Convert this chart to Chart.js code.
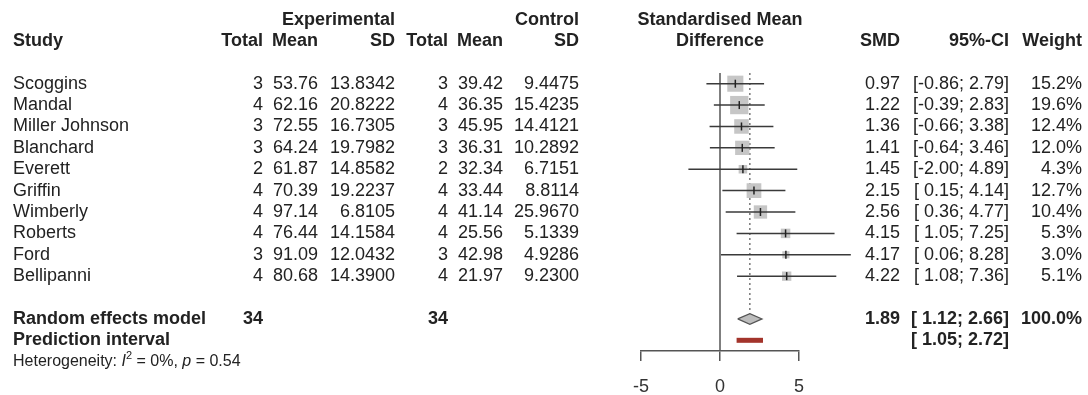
<!DOCTYPE html>
<html>
<head>
<meta charset="utf-8">
<script src="https://cdn.jsdelivr.net/npm/chart.js@4/dist/chart.umd.min.js"></script>
<style>
  body { margin: 0; background: #fff; }
  canvas { display: block; }
</style>
</head>
<body>
<canvas id="forest" width="1088" height="395"></canvas>
<script>
// study data
const studies = ['Scoggins', 'Mandal', 'Miller Johnson', 'Blanchard', 'Everett', 'Griffin', 'Wimberly', 'Roberts', 'Ford', 'Bellipanni'];
const expTotal = [3, 4, 3, 3, 2, 4, 4, 4, 3, 4];
const expMean = [53.76, 62.16, 72.55, 64.24, 61.87, 70.39, 97.14, 76.44, 91.09, 80.68];
const expSD = [13.8342, 20.8222, 16.7305, 19.7982, 14.8582, 19.2237, 6.8105, 14.1584, 12.0432, 14.3900];
const ctlTotal = [3, 4, 3, 3, 2, 4, 4, 4, 3, 4];
const ctlMean = [39.42, 36.35, 45.95, 36.31, 32.34, 33.44, 41.14, 25.56, 42.98, 21.97];
const ctlSD = [9.4475, 15.4235, 14.4121, 10.2892, 6.7151, 8.8114, 25.9670, 5.1339, 4.9286, 9.2300];
const smd = [0.97, 1.22, 1.36, 1.41, 1.45, 2.15, 2.56, 4.15, 4.17, 4.22];
const ciLow = [-0.86, -0.39, -0.66, -0.64, -2.00, 0.15, 0.36, 1.05, 0.06, 1.08];
const ciHigh = [2.79, 2.83, 3.38, 3.46, 4.89, 4.14, 4.77, 7.25, 8.28, 7.36];
const weight = [15.2, 19.6, 12.4, 12.0, 4.3, 12.7, 10.4, 5.3, 3.0, 5.1];

const pooledTotals = [34, 34];
const pooled = [1.89, 1.12, 2.66];      // SMD, lower, upper
const pooledWeight = 100.0;
const predInterval = [1.05, 2.72];
const heterogeneity = { i2: '0%', p: '0.54' };
const tickValues = [-5, 0, 5];

// row numbers on the y scale
const rowPooled = 11, rowPred = 12, rowHet = 13;

const FONT = '"Liberation Sans", Arial, Helvetica, sans-serif';
const TEXT = '#222';

function fmtCI(lo, hi) {
    const l = lo < 0 ? lo.toFixed(2) : ' ' + lo.toFixed(2);
    return '[' + l + '; ' + hi.toFixed(2) + ']';
}

const datasets = [];

// vertical line of no effect
datasets.push({
    type: 'line', order: 6, data: [{ x: 0, y: -0.5 }, { x: 0, y: 12.5 }],
    borderColor: '#555', borderWidth: 1.5, pointRadius: 0
});
// dotted line at pooled estimate
datasets.push({
    type: 'line', order: 5, data: [{ x: pooled[0], y: -0.5 }, { x: pooled[0], y: rowPooled - 0.25 }],
    borderColor: '#555', borderWidth: 1.2, borderDash: [2, 3], pointRadius: 0
});
// squares, area by weight
datasets.push({
    type: 'scatter', order: 4,
    data: smd.map((v, i) => ({ x: v, y: i })),
    pointStyle: 'rect',
    pointRadius: weight.map(w => 2.92 * Math.sqrt(w)),
    backgroundColor: '#c6c6c6', borderWidth: 0
});
// confidence intervals
smd.forEach((v, i) => {
    datasets.push({
        type: 'line', order: 3, data: [{ x: ciLow[i], y: i }, { x: ciHigh[i], y: i }],
        borderColor: '#3a3a3a', borderWidth: 1.5, pointRadius: 0
    });
});
// point estimate marks
datasets.push({
    type: 'scatter', order: 0,
    data: smd.map((v, i) => ({ x: v, y: i })),
    pointStyle: 'line', rotation: 90, pointRadius: 4,
    borderColor: '#222', pointBorderColor: '#222', borderWidth: 1.5
});
// pooled diamond
datasets.push({
    type: 'line', order: 1,
    data: [
        { x: pooled[1], y: rowPooled },
        { x: pooled[0], y: rowPooled - 0.25 },
        { x: pooled[2], y: rowPooled },
        { x: pooled[0], y: rowPooled + 0.25 },
        { x: pooled[1], y: rowPooled }
    ],
    borderColor: '#555', borderWidth: 1.2, backgroundColor: '#bdbdbd',
    fill: 'shape', pointRadius: 0, tension: 0
});
// prediction interval
datasets.push({
    type: 'line', order: 1, data: [{ x: predInterval[0], y: rowPred }, { x: predInterval[1], y: rowPred }],
    borderColor: '#a3342b', borderWidth: 5, borderCapStyle: 'butt', pointRadius: 0
});
datasets.forEach(d => { d.clip = false; });

const tablePlugin = {
    id: 'tablePlugin',
    afterDraw(chart) {
        const ctx = chart.ctx;
        const ys = chart.scales.y;
        const xs = chart.scales.x;
        const rowY = r => ys.getPixelForValue(r);
        ctx.save();
        ctx.fillStyle = TEXT;
        ctx.textBaseline = 'middle';

        function txt(s, x, r, align, bold, size) {
            ctx.font = (bold ? 'bold ' : '') + (size || 18) + 'px ' + FONT;
            ctx.textAlign = align;
            ctx.fillText(s, x, rowY(r));
        }

        // header
        txt('Experimental', 395, -3, 'right', true);
        txt('Control', 579, -3, 'right', true);
        txt('Standardised Mean', xs.getPixelForValue(0), -3, 'center', true);
        txt('Study', 13, -2, 'left', true);
        txt('Total', 263, -2, 'right', true);
        txt('Mean', 318, -2, 'right', true);
        txt('SD', 395, -2, 'right', true);
        txt('Total', 448, -2, 'right', true);
        txt('Mean', 503, -2, 'right', true);
        txt('SD', 579, -2, 'right', true);
        txt('Difference', xs.getPixelForValue(0), -2, 'center', true);
        txt('SMD', 900, -2, 'right', true);
        txt('95%-CI', 1009, -2, 'right', true);
        txt('Weight', 1082, -2, 'right', true);

        // study rows
        studies.forEach((s, i) => {
            txt(s, 13, i, 'left');
            txt(String(expTotal[i]), 263, i, 'right');
            txt(expMean[i].toFixed(2), 318, i, 'right');
            txt(expSD[i].toFixed(4), 395, i, 'right');
            txt(String(ctlTotal[i]), 448, i, 'right');
            txt(ctlMean[i].toFixed(2), 503, i, 'right');
            txt(ctlSD[i].toFixed(4), 579, i, 'right');
            txt(smd[i].toFixed(2), 900, i, 'right');
            txt(fmtCI(ciLow[i], ciHigh[i]), 1009, i, 'right');
            txt(weight[i].toFixed(1) + '%', 1082, i, 'right');
        });

        // pooled rows
        txt('Random effects model', 13, rowPooled, 'left', true);
        txt(String(pooledTotals[0]), 263, rowPooled, 'right', true);
        txt(String(pooledTotals[1]), 448, rowPooled, 'right', true);
        txt(pooled[0].toFixed(2), 900, rowPooled, 'right', true);
        txt(fmtCI(pooled[1], pooled[2]), 1009, rowPooled, 'right', true);
        txt(pooledWeight.toFixed(1) + '%', 1082, rowPooled, 'right', true);
        txt('Prediction interval', 13, rowPred, 'left', true);
        txt(fmtCI(predInterval[0], predInterval[1]), 1009, rowPred, 'right', true);

        // heterogeneity line with italic I and p
        const y = rowY(rowHet);
        let x = 13;
        ctx.textAlign = 'left';
        const part = (s, style, size, dy) => {
            ctx.font = style + (size || 16) + 'px ' + FONT;
            ctx.fillText(s, x, y + (dy || 0));
            x += ctx.measureText(s).width;
        };
        part('Heterogeneity: ', '');
        part('I', 'italic ');
        part('2', '', 11, -6);
        part(' = ' + heterogeneity.i2 + ', ', '');
        part('p', 'italic ');
        part(' = ' + heterogeneity.p, '');
        ctx.restore();
    }
};

const chart = new Chart(document.getElementById('forest'), {
    type: 'scatter',
    data: { datasets: datasets },
    options: {
        responsive: false,
        animation: false,
        devicePixelRatio: 1,
        layout: { padding: { left: 641, right: 289, top: 73, bottom: 0 } },
        plugins: { legend: { display: false }, tooltip: { enabled: false } },
        scales: {
            x: {
                type: 'linear', min: -5, max: 5, position: 'bottom',
                afterBuildTicks: scale => { scale.ticks = tickValues.map(v => ({ value: v })); },
                afterFit: scale => { scale.height = 44; },
                grid: { drawOnChartArea: false, drawTicks: true, tickLength: 10, color: '#555', lineWidth: 1.5 },
                border: { display: true, color: '#555', width: 1.5 },
                ticks: { color: '#333', padding: 15, font: { size: 18, family: FONT }, maxRotation: 0 }
            },
            y: { type: 'linear', reverse: true, min: -0.5, max: 12.5, display: false }
        }
    },
    plugins: [tablePlugin]
});
</script>
</body>
</html>
